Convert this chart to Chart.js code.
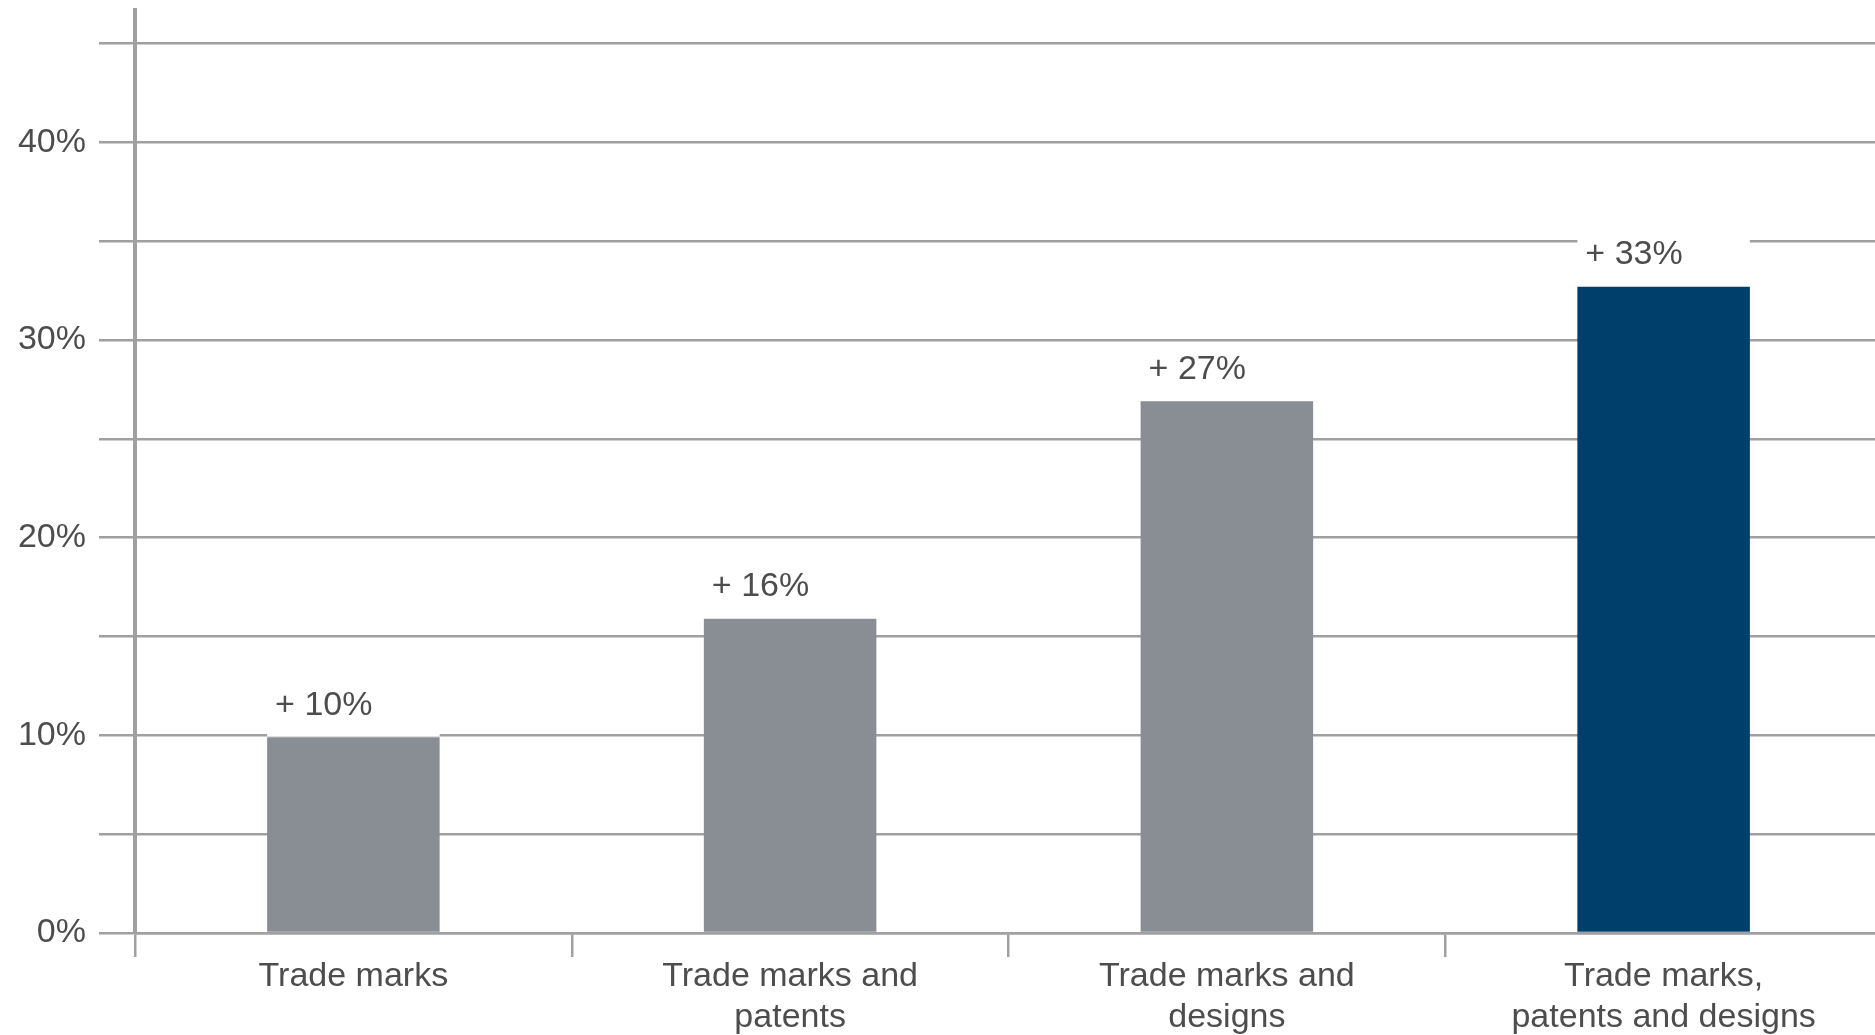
<!DOCTYPE html>
<html>
<head>
<meta charset="utf-8">
<script src="https://cdn.jsdelivr.net/npm/chart.js@4.4.0/dist/chart.umd.min.js"></script>
<style>
  html, body { margin: 0; padding: 0; background: #ffffff; overflow: hidden; }
  #wrap { width: 1882px; height: 1035px; }
</style>
</head>
<body>
<div id="wrap"><canvas id="chart"></canvas></div>
<script>
const categories = [
    ['Trade marks'],
    ['Trade marks and', 'patents'],
    ['Trade marks and', 'designs'],
    ['Trade marks,', 'patents and designs']
];
const values = [9.9, 15.9, 26.9, 32.7];
const barLabels = ['+ 10%', '+ 16%', '+ 27%', '+ 33%'];
const barColors = ['#888e94', '#888e94', '#888e94', '#003f6b'];
const yTicks = [0, 5, 10, 15, 20, 25, 30, 35, 40, 45];
const yMax = 46.7;

const gridColor = '#a0a0a0';
const textColor = '#4d4d4d';
const fontFamily = '"Liberation Sans", Arial, sans-serif';

// white box + value text above each bar
const barLabelPlugin = {
    id: 'barLabels',
    afterDatasetsDraw(chart) {
        const ctx = chart.ctx;
        const meta = chart.getDatasetMeta(0);
        ctx.save();
        meta.data.forEach((bar, i) => {
            const left = bar.x - bar.width / 2;
            ctx.fillStyle = '#ffffff';
            ctx.fillRect(left, bar.y - 56, bar.width, 55);
            ctx.fillStyle = textColor;
            ctx.font = '34px ' + fontFamily;
            ctx.textAlign = 'left';
            ctx.textBaseline = 'middle';
            ctx.fillText(barLabels[i], left + 8, bar.y - 32);
        });
        ctx.restore();
    }
};

new Chart(document.getElementById('chart'), {
    type: 'bar',
    data: {
        labels: categories,
        datasets: [{
            data: values,
            backgroundColor: barColors,
            borderWidth: 0,
            barPercentage: 0.395,
            categoryPercentage: 1
        }]
    },
    options: {
        responsive: true,
        maintainAspectRatio: false,
        animation: false,
        layout: { padding: { top: 10, right: 0, left: 0, bottom: 0 } },
        plugins: {
            legend: { display: false },
            tooltip: { enabled: false }
        },
        scales: {
            x: {
                grid: {
                    offset: true,
                    drawOnChartArea: false,
                    color: gridColor,
                    lineWidth: 2.5,
                    tickLength: 24
                },
                border: { display: true, color: gridColor, width: 2.5 },
                ticks: {
                    color: textColor,
                    padding: 0,
                    maxRotation: 0,
                    autoSkip: false,
                    font: { family: fontFamily, size: 34, lineHeight: 1.18 }
                },
                afterFit(scale) { scale.height = 102; }
            },
            y: {
                min: 0,
                max: yMax,
                afterBuildTicks(scale) {
                    scale.ticks = yTicks.map(v => ({ value: v }));
                },
                grid: {
                    color: gridColor,
                    lineWidth: 2.5,
                    tickLength: 36
                },
                border: { display: true, color: gridColor, width: 4 },
                ticks: {
                    color: textColor,
                    padding: 13,
                    font: { family: fontFamily, size: 34 },
                    callback: v => (v % 10 === 0 ? v + '%' : '')
                },
                afterFit(scale) {
                    scale.width = 135;
                    scale.paddingTop = 0;
                    scale.paddingBottom = 0;
                }
            }
        }
    },
    plugins: [barLabelPlugin]
});
</script>
</body>
</html>
